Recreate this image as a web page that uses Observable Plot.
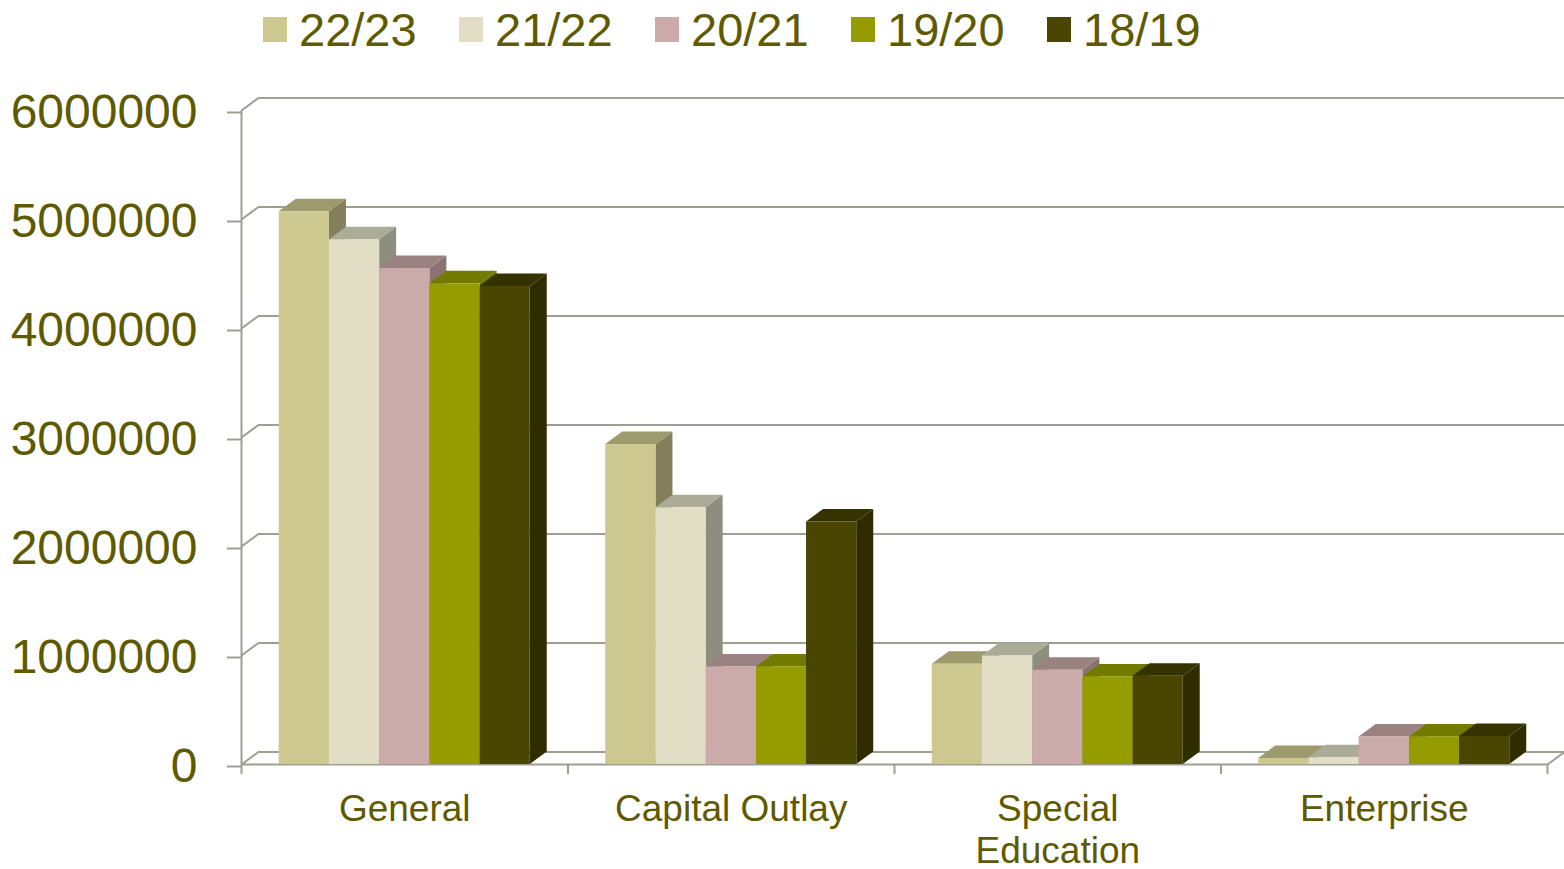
<!DOCTYPE html>
<html>
<head>
<meta charset="utf-8">
<script src="https://cdn.jsdelivr.net/npm/d3@7"></script>
<script src="https://cdn.jsdelivr.net/npm/@observablehq/plot@0.6"></script>
<style>
  html, body { margin: 0; padding: 0; background: #fff; }
  #wrap { position: relative; width: 1564px; height: 869px; overflow: hidden; font-family: "Liberation Sans", Arial, sans-serif; }
  #legend { position: absolute; top: 6px; left: 263px; display: flex; z-index: 2; }
  .item { display: flex; align-items: center; height: 46px; width: 196px; }
  .sw { width: 24px; height: 25px; margin-right: 12px; }
  .lab { font-size: 47px; line-height: 1; color: #5e5a00; }
  #chart { position: absolute; top: 0; left: 0; }
</style>
</head>
<body>
<div id="wrap">
  <div id="legend"></div>
  <div id="chart"></div>
</div>
<script>
// ---- data ----
const categories = ["General", "Capital Outlay", "Special\nEducation", "Enterprise"];
const seriesNames = ["22/23", "21/22", "20/21", "19/20", "18/19"];
const v2223 = [5070000, 2935000, 920000, 55000];
const v2122 = [4815000, 2355000, 995000, 62000];
const v2021 = [4550000, 895000, 865000, 253000];
const v1920 = [4410000, 895000, 803000, 253000];
const v1819 = [4385000, 2225000, 810000, 258000];
const yTicks = [0, 1000000, 2000000, 3000000, 4000000, 5000000, 6000000];

// ---- styles ----
const frontColors = ["#ccc890", "#e2dec5", "#caabaa", "#949c00", "#4a4500"];
const topColors   = ["#9d9a6e", "#acab97", "#9a8281", "#737a00", "#363200"];
const sideColors  = ["#84805c", "#8e8e7e", "#8a7372", "#666c00", "#2f2c00"];
const gridColor = "#9f9e92";
const textColor = "#5e5a00";

const W = 1564, H = 869, mL = 241, mR = 17, mT = 110, mB = 105;
const pxPerX = (W - mL - mR) / 4;
const pxPerY = (H - mB - mT) / 6000000;
const DX = 17 / pxPerX;       // depth offset, x units
const DY = 12.5 / pxPerY;     // depth offset, y units
const barW = 50.2 / pxPerX;
const groupOff = (1 - 5 * barW) / 2;

const seriesValues = [v2223, v2122, v2021, v1920, v1819];
const bars = [];
categories.forEach((c, i) => {
  seriesValues.forEach((vals, j) => {
    const xl = i + groupOff + j * barW;
    bars.push({id: i + "-" + j, xl, xr: xl + barW, v: vals[i], j});
  });
});
const sidePts = bars.flatMap(b => [
  {id: b.id, x: b.xr, y1: 0, y2: b.v, c: sideColors[b.j]},
  {id: b.id, x: b.xr + DX, y1: DY, y2: b.v + DY, c: sideColors[b.j]}
]);
const topPts = bars.flatMap(b => [
  {id: b.id, x: b.xl, y1: b.v, y2: b.v, c: topColors[b.j]},
  {id: b.id, x: b.xl + DX, y1: b.v, y2: b.v + DY, c: topColors[b.j]},
  {id: b.id, x: b.xr, y1: b.v, y2: b.v + DY, c: topColors[b.j]},
  {id: b.id, x: b.xr + DX, y1: b.v + DY, y2: b.v + DY, c: topColors[b.j]}
]);

const chart = Plot.plot({
  width: W, height: H,
  marginLeft: mL, marginRight: mR, marginTop: mT, marginBottom: mB,
  x: {domain: [0, 4], axis: null},
  y: {domain: [0, 6000000], axis: null},
  color: {type: "identity"},
  style: {fontFamily: "'Liberation Sans', Arial, sans-serif", background: "transparent", overflow: "visible"},
  marks: [
    // back wall gridlines
    Plot.ruleY(yTicks, {dx: 17, dy: -12.5, stroke: gridColor, strokeWidth: 2}),
    // left wall diagonals
    Plot.link(yTicks, {x1: 0, x2: DX, y1: d => d, y2: d => d + DY, stroke: gridColor, strokeWidth: 2}),
    // front vertical axis
    Plot.ruleX([0], {y1: 0, y2: 6000000, stroke: gridColor, strokeWidth: 2}),
    Plot.axisY({ticks: yTicks, tickSize: 14, tickPadding: 30, stroke: gridColor, strokeWidth: 2,
      fill: textColor, fontSize: 48, dy: 2, tickFormat: d3.format("d"), label: null}),
    // floor front line + right diagonal
    Plot.ruleY([0], {stroke: gridColor, strokeWidth: 2}),
    Plot.link([4], {x1: d => d, x2: d => d + DX, y1: 0, y2: DY, stroke: gridColor, strokeWidth: 2}),
    Plot.axisX({ticks: [0, 1, 2, 3, 4], tickSize: 10, tickFormat: () => "", stroke: gridColor, strokeWidth: 2, label: null}),
    // bars
    Plot.areaY(sidePts, {x: "x", y1: "y1", y2: "y2", z: "id", fill: d => d.c}),
    Plot.areaY(topPts, {x: "x", y1: "y1", y2: "y2", z: "id", fill: d => d.c}),
    Plot.rect(bars, {x1: "xl", x2: "xr", y1: 0, y2: "v", fill: d => frontColors[d.j]}),
    // category labels
    Plot.text(categories, {x: (d, i) => i + 0.5, y: 0, text: d => d, lineAnchor: "top", dy: 26,
      fontSize: 37, lineHeight: 1.15, fill: textColor})
  ]
});
document.getElementById("chart").appendChild(chart);

const legend = document.getElementById("legend");
seriesNames.forEach((name, j) => {
  const it = document.createElement("div");
  it.className = "item";
  const sw = document.createElement("div");
  sw.className = "sw";
  sw.style.background = frontColors[j];
  const lab = document.createElement("span");
  lab.className = "lab";
  lab.textContent = name;
  it.appendChild(sw);
  it.appendChild(lab);
  legend.appendChild(it);
});
</script>
</body>
</html>
